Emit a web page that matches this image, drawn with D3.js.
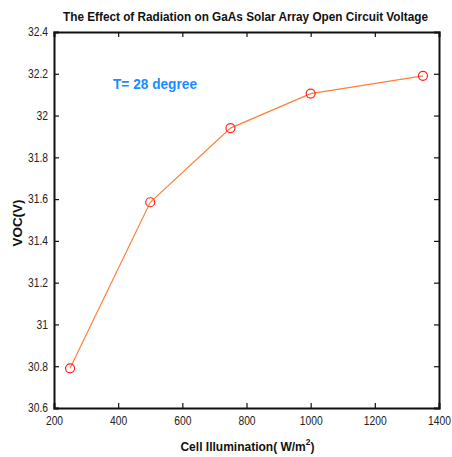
<!DOCTYPE html>
<html>
<head>
<meta charset="utf-8">
<script src="https://cdn.jsdelivr.net/npm/d3@7"></script>
<style>
  body { margin: 0; background: #fff; }
  svg text { font-family: "Liberation Sans", Arial, sans-serif; }
</style>
</head>
<body>
<svg id="chart" width="452" height="457"></svg>
<script>
// Cell illumination (W/m^2) and measured open circuit voltage (V)
const illumination = [250, 500, 750, 1000, 1350];
const voc = [30.79, 31.585, 31.94, 32.105, 32.19];
const xTicks = [200, 400, 600, 800, 1000, 1200, 1400];
const yTicks = [30.6, 30.8, 31, 31.2, 31.4, 31.6, 31.8, 32, 32.2, 32.4];

const svg = d3.select("#chart");
const m = { left: 54, right: 13, top: 32, bottom: 49 };
const W = 452, H = 457;
const x = d3.scaleLinear().domain([200, 1400]).range([m.left, W - m.right]);
const y = d3.scaleLinear().domain([30.6, 32.4]).range([H - m.bottom, m.top]);

const fmt = d => d3.format("~g")(d);
const squeeze = 0.86; // narrow face for tick labels

// bottom axis with inward ticks
const gx = svg.append("g").attr("transform", `translate(0,${H - m.bottom})`)
  .call(d3.axisBottom(x).tickValues(xTicks).tickSize(-5).tickPadding(8).tickFormat(fmt));
// top axis (ticks only)
const gxt = svg.append("g").attr("transform", `translate(0,${m.top})`)
  .call(d3.axisTop(x).tickValues(xTicks).tickSize(-5).tickFormat(""));
// left axis
const gy = svg.append("g").attr("transform", `translate(${m.left},0)`)
  .call(d3.axisLeft(y).tickValues(yTicks).tickSize(-5).tickPadding(6).tickFormat(fmt));
// right axis (ticks only)
const gyr = svg.append("g").attr("transform", `translate(${W - m.right},0)`)
  .call(d3.axisRight(y).tickValues(yTicks).tickSize(-5).tickFormat(""));

[gx, gxt, gy, gyr].forEach(g => {
  g.select(".domain").attr("stroke", "#111").attr("stroke-width", 2);
  g.selectAll(".tick line").attr("stroke", "#111").attr("stroke-width", 1.2);
  g.selectAll(".tick text").attr("fill", "#222").style("font-size", "12px");
});
gx.selectAll(".tick text").attr("transform", `scale(${squeeze},1)`);
gy.selectAll(".tick text").attr("x", -6 / squeeze).attr("transform", `scale(${squeeze},1)`);
// hide the tick marks that sit on the box corners
[gx, gxt].forEach(g => g.selectAll(".tick line").filter(d => d === 200 || d === 1400).remove());
[gy, gyr].forEach(g => g.selectAll(".tick line").filter(d => d === 30.6 || d === 32.4).remove());

// data line
const line = d3.line().x((d, i) => x(illumination[i])).y(d => y(d));
svg.append("path").datum(voc)
  .attr("d", line).attr("fill", "none")
  .attr("stroke", "#ff7f3a").attr("stroke-width", 1.2);

// circle markers
svg.append("g").selectAll("circle").data(voc).join("circle")
  .attr("cx", (d, i) => x(illumination[i])).attr("cy", d => y(d))
  .attr("r", 4.5).attr("fill", "none")
  .attr("stroke", "#ff2020").attr("stroke-width", 1.2);

// title
svg.append("text").attr("x", 245.5).attr("y", 21).attr("text-anchor", "middle")
  .style("font-size", "12.5px").style("font-weight", "bold").attr("fill", "#111")
  .attr("textLength", 365).attr("lengthAdjust", "spacingAndGlyphs")
  .text("The Effect of Radiation on GaAs Solar Array Open Circuit Voltage");

// annotation
svg.append("text").attr("x", 113).attr("y", 89)
  .style("font-size", "14px").style("font-weight", "bold").attr("fill", "#1a8cff")
  .attr("textLength", 84).attr("lengthAdjust", "spacingAndGlyphs")
  .text("T= 28 degree");

// y label
svg.append("text").attr("transform", `translate(22,${223}) rotate(-90)`)
  .attr("text-anchor", "middle")
  .style("font-size", "12.5px").style("font-weight", "bold").attr("fill", "#111")
  .attr("textLength", 47).attr("lengthAdjust", "spacingAndGlyphs")
  .text("VOC(V)");

// x label with superscript
const xl = svg.append("text").attr("x", 247.5).attr("y", 451).attr("text-anchor", "middle")
  .style("font-size", "12px").style("font-weight", "bold").attr("fill", "#111");
xl.append("tspan").text("Cell Illumination( W/m");
xl.append("tspan").attr("dy", -6).style("font-size", "8.5px").text("2");
xl.append("tspan").attr("dy", 6).text(")");
</script>
</body>
</html>
